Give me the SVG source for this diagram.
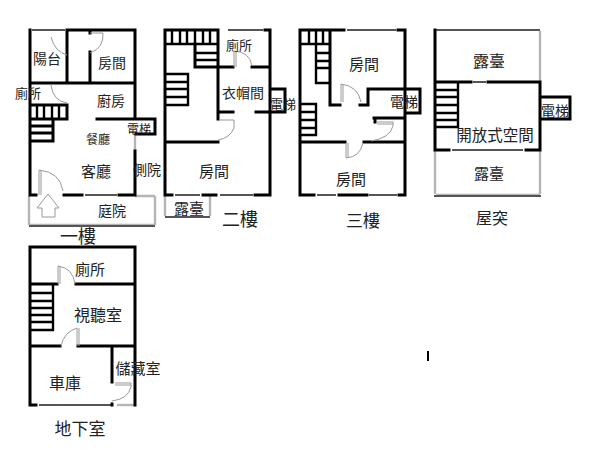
<svg xmlns="http://www.w3.org/2000/svg" width="600" height="450" viewBox="0 0 600 450">
<style>
.w{fill:none;stroke:#000;stroke-width:3;stroke-linecap:square}
.s{fill:none;stroke:#000;stroke-width:2.4}
.g{fill:none;stroke:#b4b4b4;stroke-width:2.4}
.d{fill:none;stroke:#555;stroke-width:2}
.a{fill:none;stroke:#999;stroke-width:1}
text{font-family:"Noto Sans CJK TC","Noto Sans CJK SC",sans-serif;fill:#222;text-anchor:middle;dominant-baseline:central}
</style>
<rect width="600" height="450" fill="#fff"/>
<g id="floor1">
<path class="d" d="M32 30H65"/>
<path class="g" d="M29 196V225M135 135V150M135 196H155M155 196V225M29 225H155"/>
<path class="d" d="M85 195H117M29 226H155"/>
<path class="w" d="M30 30V195H36M68 30H135V119M67 30V83M90 30V33M90 52V83M31 83H135M30 105H67V119H31M53 119V141H31M31 126H53M31 133H53M97 119H155V134H136M135 151V195M64 195H82M119 195H135"/>
<path class="s" d="M37 105V119M44 105V119M52 105V119M59 105V119"/>
<path class="a" d="M51 37Q55 52 67 55M90 33H103Q104 48 90 53M51 85Q53 101 67 103M39 170V195M41 170V195M39 170Q60 172 63 191"/>
<path class="a" d="M48 194L37 208H42V217H55V208H59Z"/>
<text x="47" y="58" font-size="14">陽台</text><text x="112" y="62" font-size="14">房間</text><text x="28" y="92" font-size="13">廁所</text><text x="111" y="100" font-size="14">廚房</text><text x="98" y="138" font-size="12">餐廳</text><text x="96" y="170" font-size="15">客廳</text><text x="139" y="128" font-size="12">電梯</text><text x="147" y="169" font-size="14">側院</text><text x="112" y="210" font-size="14">庭院</text><text x="78" y="235" font-size="18">一樓</text>
</g>
<g id="floor2">
<path class="d" d="M228 30H263M175 195H200M220 195H253M165 217H210"/>
<path class="g" d="M165 196V216M210 196V216"/>
<path class="w" d="M165 30V195H172M165 30H218M218 30V119M265 30H270V195H255M203 195H216M195 67H233M252 67H270M166 142H218M195 44V67M270 89H285V112H270M218 112H233M256 112H270"/>
<path class="s" d="M172 30V44M180 30V44M187 30V44M195 30V44M203 30V44M210 30V44M165 44H218M196 53H218M196 60H218M165 74H188V105H165M166 82H188M166 89H188M166 97H188"/>
<path class="a" d="M234 51V67M236 51V67M234 51Q250 52 252 66M219 120H234V128Q230 138 218 140"/>
<text x="239" y="44" font-size="13">廁所</text><text x="243" y="92" font-size="14">衣帽間</text><text x="283" y="103" font-size="13">電梯</text><text x="214" y="170" font-size="15">房間</text><text x="189" y="207" font-size="15">露臺</text><text x="240" y="218" font-size="18">二樓</text>
</g>
<g id="floor3">
<path class="d" d="M347 30H396M317 195H336M369 195H397"/>
<path class="w" d="M300 30V195H314M300 30H344M330 30V105H340M398 30H405V195H399M339 195H367M360 105H368V89H405M405 89H420V113H405M374 118H405M375 118V122M301 142H345M364 142H405"/>
<path class="s" d="M309 30V44M316 30V44M323 30V44M300 44H330M316 44V83H330M317 53H330M317 61H330M317 68H330M300 104H316V135H300M301 112H316M301 120H316M301 128H316"/>
<path class="a" d="M341 84V102M343 84V102M341 84Q358 86 361 102M377 122H393V126Q390 138 371 141M377 124H393M346 143V158Q360 157 363 143M348 143V157"/>
<text x="364" y="63" font-size="15">房間</text><text x="404" y="101" font-size="14">電梯</text><text x="351" y="178" font-size="15">房間</text><text x="363" y="219" font-size="17">三樓</text>
</g>
<g id="roof">
<path class="g" d="M540 31V82M435 151V194M540 151V194M436 195H540"/>
<path class="d" d="M435 30H540M473 82H486M452 150H523M434 196H541"/>
<path class="w" d="M435 30V150H449M435 82H471M488 82H540V150H526M540 97H570V119H541"/>
<path class="s" d="M458 82V127H436M436 90H458M436 97H458M436 105H458M436 113H458M436 120H458"/>
<text x="489" y="60" font-size="16">露臺</text><text x="555" y="110" font-size="14">電梯</text><text x="495" y="134" font-size="15.5">開放式空間</text><text x="489" y="172" font-size="15">露臺</text><text x="492" y="217" font-size="16">屋突</text>
</g>
<g id="basement">
<path class="d" d="M39 405H111"/>
<path class="g" d="M117 405H135"/>
<path class="w" d="M30 247H135V405M30 247V405H36M31 284H57M76 284H135M31 346H60M78 346H135M112 346V382M112 404V405"/>
<path class="s" d="M53 285V330H31M31 293H53M31 301H53M31 308H53M31 315H53M31 322H53"/>
<path class="a" d="M58 266V284M60 266V284M58 266Q73 268 75 284M77 328V346M79 328V346M77 328Q64 332 61 346M115 383H131V387Q128 399 112 401M115 385H131"/>
<text x="90" y="268" font-size="15">廁所</text><text x="98" y="314" font-size="16">視聽室</text><text x="65" y="382" font-size="16">車庫</text><text x="138" y="367" font-size="15">儲藏室</text><text x="80" y="427" font-size="17">地下室</text>
</g>
<rect x="427" y="351" width="2" height="10" fill="#000"/>
</svg>
